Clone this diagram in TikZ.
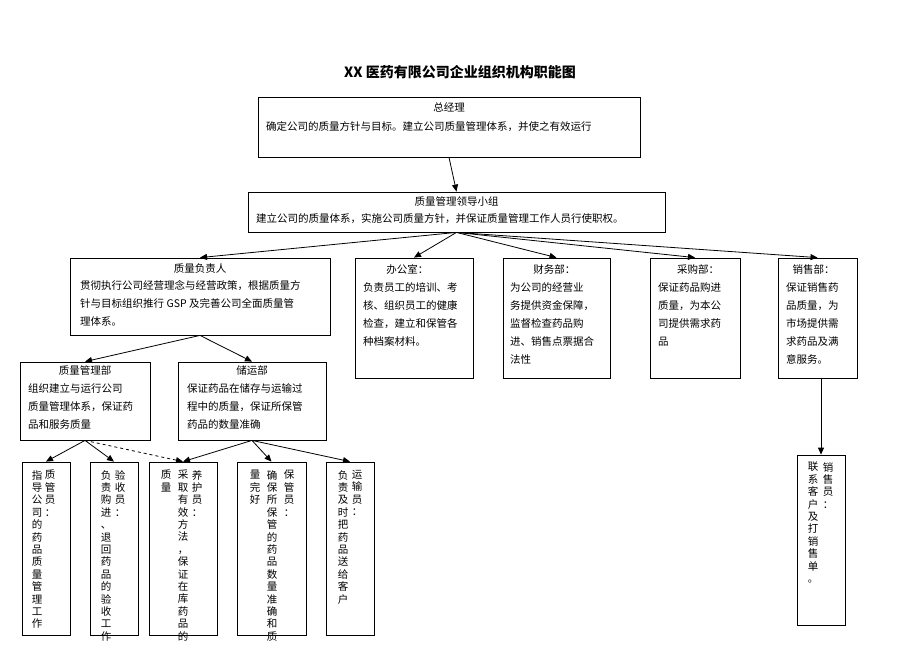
\documentclass[tikz,border=0pt]{standalone}
\usepackage{fontspec}
\setmainfont{Noto Sans CJK SC}
\usetikzlibrary{arrows.meta}
\tikzset{
  box/.style={draw,thick,rectangle,inner sep=0pt},
  txt/.style={font=\fontsize{10.5}{18}\selectfont,align=left,inner sep=0pt,anchor=north west},
  vtxt/.style={font=\fontsize{10.5}{12.4}\selectfont,align=center,inner sep=0pt,anchor=north},
  arr/.style={-{Triangle[length=7pt,width=6pt]},thick},
}
\begin{document}
\begin{tikzpicture}[x=1pt,y=-1pt]
  \useasboundingbox (0,0) rectangle (920,651);

  \node[font=\fontsize{14}{16}\selectfont\bfseries] (title) at (460,72) {XX 医药有限公司企业组织机构职能图};

  \node[box,minimum width=382,minimum height=60] (zjl) at (449,127) {};
  \node[box,minimum width=417,minimum height=40] (xz) at (456.5,212) {};
  \node[box,minimum width=260,minimum height=77] (zlfz) at (200,296.5) {};
  \node[box,minimum width=118,minimum height=120] (bgs) at (414,318) {};
  \node[box,minimum width=107,minimum height=120] (cwb) at (556.5,318) {};
  \node[box,minimum width=90,minimum height=120] (cgb) at (695,318) {};
  \node[box,minimum width=79,minimum height=120] (xsb) at (817.5,318) {};
  \node[box,minimum width=130,minimum height=78] (glb) at (85,401) {};
  \node[box,minimum width=148,minimum height=78] (cyb) at (252,401) {};
  \node[box,minimum width=48,minimum height=173] (b1) at (46,548.5) {};
  \node[box,minimum width=48,minimum height=173] (b2) at (114,548.5) {};
  \node[box,minimum width=68,minimum height=173] (b3) at (183,548.5) {};
  \node[box,minimum width=69,minimum height=173] (b4) at (271.5,548.5) {};
  \node[box,minimum width=48,minimum height=173] (b5) at (350,548.5) {};
  \node[box,minimum width=48,minimum height=170] (xsy) at (821,540) {};

  % horizontal texts
  \node[txt,anchor=north] at (zjl.north) [yshift=-6] {总经理};
  \node[txt] at (266,121) {确定公司的质量方针与目标。建立公司质量管理体系，并使之有效运行};
  \node[txt,anchor=north] at (xz.north) [yshift=-5] {质量管理领导小组};
  \node[txt] at (256,213) {建立公司的质量体系，实施公司质量方针，并保证质量管理工作人员行使职权。};
  \node[txt,anchor=north] at (zlfz.north) [yshift=-6] {质量负责人};
  \node[txt] at (80,280) {贯彻执行公司经营理念与经营政策，根据质量方\\针与目标组织推行 GSP 及完善公司全面质量管\\理体系。};
  \node[txt] at (363,264) {\hspace{2.2em}办公室：\\负责员工的培训、考\\核、组织员工的健康\\检查，建立和保管各\\种档案材料。};
  \node[txt] at (510,264) {\hspace{2.2em}财务部：\\为公司的经营业\\务提供资金保障，\\监督检查药品购\\进、销售点票据合\\法性};
  \node[txt] at (658,264) {\hspace{1.8em}采购部：\\保证药品购进\\质量，为本公\\司提供需求药\\品};
  \node[txt] at (786,264) {\hspace{0.6em}销售部：\\保证销售药\\品质量，为\\市场提供需\\求药品及满\\意服务。};
  \node[txt,anchor=north] at (glb.north) [yshift=-4] {质量管理部};
  \node[txt] at (28,383) {组织建立与运行公司\\质量管理体系，保证药\\品和服务质量};
  \node[txt,anchor=north] at (cyb.north) [yshift=-4] {储运部};
  \node[txt] at (187,383) {保证药品在储存与运输过\\程中的质量，保证所保管\\药品的数量准确};

  % vertical texts
  \node[vtxt] at (50,470) {质\\管\\员\\：};
  \node[vtxt] at (37,470) {指\\导\\公\\司\\的\\药\\品\\质\\量\\管\\理\\工\\作};
  \node[vtxt] at (120,470) {验\\收\\员\\：};
  \node[vtxt] at (106,470) {负\\责\\购\\进\\、\\退\\回\\药\\品\\的\\验\\收\\工\\作};
  \node[vtxt] at (197,470) {养\\护\\员\\：};
  \node[vtxt] at (183,470) {采\\取\\有\\效\\方\\法\\，\\保\\证\\在\\库\\药\\品\\的};
  \node[vtxt] at (166,470) {质\\量};
  \node[vtxt] at (289,470) {保\\管\\员\\：};
  \node[vtxt] at (272,470) {确\\保\\所\\保\\管\\的\\药\\品\\数\\量\\准\\确\\和\\质};
  \node[vtxt] at (255,470) {量\\完\\好};
  \node[vtxt] at (357,470) {运\\输\\员\\：};
  \node[vtxt] at (343,470) {负\\责\\及\\时\\把\\药\\品\\送\\给\\客\\户};
  \node[vtxt] at (828,462) {销\\售\\员\\：};
  \node[vtxt] at (813,462) {联\\系\\客\\户\\及\\打\\销\\售\\单\\。};

  % connectors
  \draw[arr] (zjl.south) -- (xz.north);
  \foreach \t in {zlfz,bgs,cwb,cgb,xsb}
    \draw[arr] (xz.south) -- (\t.north);
  \draw[arr] (zlfz.south) -- (glb.north);
  \draw[arr] (zlfz.south) -- (cyb.north);
  \draw[arr] (glb.south) -- (b1.north);
  \draw[arr] (glb.south) -- (b2.north);
  \draw[arr,dashed] (glb.south) -- (b3.north);
  \foreach \t in {b3,b4,b5}
    \draw[arr] (cyb.south) -- (\t.north);
  \draw[arr] (xsb.south -| xsy.north) -- (xsy.north);
\end{tikzpicture}
\end{document}
